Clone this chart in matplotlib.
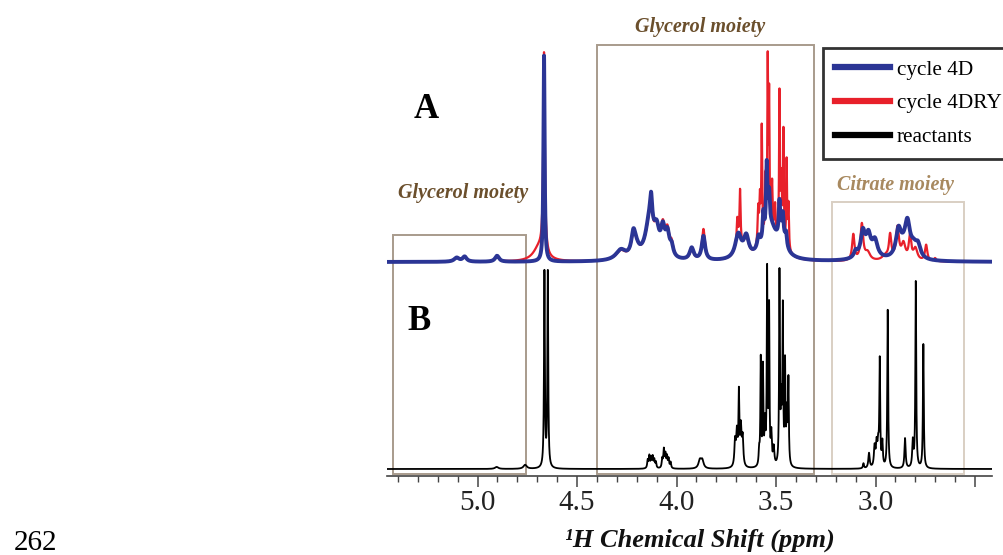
import numpy as np
import matplotlib.pyplot as plt
from matplotlib.lines import Line2D
from matplotlib.patches import Rectangle

plt.rcParams['font.family'] = ['Liberation Serif', 'DejaVu Serif']

### ============= peak tables =============
### each spectrum: peak position (ppm), height, half width (ppm)

## B: reactants
b_pos = [4.904, 4.761, 4.664, 4.647,
         4.145, 4.137, 4.128, 4.120, 4.112, 4.104,
         4.072, 4.064, 4.056, 4.048, 4.040, 4.030,
         3.883, 3.871,
         3.706, 3.697, 3.687, 3.677, 3.668,
         3.585, 3.577, 3.566, 3.556, 3.545, 3.535, 3.524, 3.512,
         3.483, 3.474, 3.466, 3.455, 3.446, 3.438,
         3.061, 3.033, 3.005, 2.995, 2.987, 2.979, 2.966, 2.939,
         2.852, 2.813, 2.798, 2.760]
b_hgt = [2, 4, 195, 195,
         8, 12, 10, 11, 8, 6,
         9, 18, 13, 11, 9, 6,
         8, 8,
         25, 33, 70, 38, 28,
         15, 106, 96, 40, 192, 155, 30, 18,
         190, 60, 152, 98, 50, 84,
         5, 15, 20, 22, 20, 105, 24, 158,
         30, 26, 186, 124]
b_wid = [.01, .01, .0025, .0025,
         .003, .003, .003, .003, .003, .003,
         .003, .003, .003, .003, .003, .003,
         .008, .008,
         .004, .004, .0025, .004, .004,
         .003, .0022, .0022, .003, .0022, .0022, .003, .004,
         .0022, .003, .0022, .0022, .003, .0025,
         .003, .004, .004, .004, .004, .0025, .003, .0025,
         .0035, .0035, .0025, .0025]

## A: cycle 4D (blue)
d_pos = [5.105, 5.065, 4.902, 4.666,
         4.28, 4.217, 4.205, 4.135, 4.128, 4.10, 4.069, 4.046, 4.025,
         3.924, 3.865,
         3.69, 3.65, 3.588,
         3.53, 3.47, 3.564, 3.547, 3.535, 3.483, 3.466, 3.45,
         3.10, 3.064, 3.036, 3.003, 3.04, 2.885, 2.86, 2.84, 2.81, 2.787]
d_hgt = [4, 5, 6, 206,
         10, 20, 10, 40, 25, 22, 25, 22, 10,
         12, 24,
         24, 20, 12,
         35, 20, 25, 65, 30, 32, 18, 12,
         6, 22, 15, 15, 10, 25, 10, 30, 10, 12]
d_wid = [.015, .012, .012, .0035,
         .03, .012, .02, .025, .006, .015, .012, .012, .01,
         .012, .01,
         .018, .015, .008,
         .04, .02, .004, .004, .004, .004, .004, .005,
         .01, .012, .012, .015, .04, .015, .03, .015, .02, .015]

## A: cycle 4DRY (red)
r_pos = [5.105, 5.065, 4.902, 4.666, 4.69,
         4.28, 4.217, 4.205, 4.135, 4.128, 4.10, 4.069, 4.046, 4.025,
         3.924, 3.865,
         3.69, 3.695, 3.681, 3.65, 3.588,
         3.53, 3.47,
         3.59, 3.581, 3.572, 3.553, 3.542, 3.535, 3.520, 3.505,
         3.483, 3.474, 3.463, 3.447, 3.438,
         3.112, 3.069, 3.04, 2.95, 2.927, 2.89, 2.86, 2.827, 2.80,
         2.746, 2.701]
r_hgt = [4, 5, 5, 200, 14,
         9, 18, 10, 38, 20, 22, 27, 24, 12,
         10, 31,
         20, 20, 50, 18, 12,
         30, 15,
         28, 40, 112, 55, 163, 127, 45, 28,
         141, 55, 105, 84, 45,
         26, 36, 8, 5, 24, 32, 16, 24, 12,
         16, 3]
r_wid = [.015, .012, .012, .0045, .035,
         .03, .012, .02, .025, .006, .015, .012, .012, .01,
         .012, .009,
         .018, .003, .003, .015, .008,
         .04, .02,
         .003, .003, .0025, .003, .0022, .0022, .003, .003,
         .0022, .003, .0022, .0022, .003,
         .007, .008, .015, .02, .007, .009, .012, .007, .012,
         .007, .006]

legend_labels = ['cycle 4D', 'cycle 4DRY', 'reactants']
tick_vals = [5.0, 4.5, 4.0, 3.5, 3.0, 2.5]
tick_text = ['5.0', '4.5', '4.0', '3.5', '3.0', '']

BASE_A = 214
BASE_B = 7

def spectrum(x, pos, hgt, wid):
    '''sum of lorentzian lines'''
    y = np.zeros_like(x)
    for p, h, w in zip(pos, hgt, wid):
        y += h * w**2 / ((x - p)**2 + w**2)
    return y

W, H = 1004, 555
fig = plt.figure(figsize=(W/100, H/100), dpi=100)
ax = fig.add_axes([387/W, (H-476)/H, (992-387)/W, 476/H])

x = np.linspace(5.455, 2.415, 30000)

### boxes round the moieties
box_dark = '#a89b8c'
box_light = '#d9cfc3'
ax.add_patch(Rectangle((5.425, 2), 4.756-5.425, 239, fill=False,
                       ec=box_dark, lw=1.4, zorder=1))
ax.add_patch(Rectangle((4.401, 2), 3.307-4.401, 429, fill=False,
                       ec=box_dark, lw=1.4, zorder=1))
ax.add_patch(Rectangle((3.217, 2), 2.555-3.217, 272, fill=False,
                       ec=box_light, lw=1.4, zorder=1))

ax.plot(x, BASE_B + spectrum(x, b_pos, b_hgt, b_wid), c='black', lw=1.3, zorder=3)
ax.plot(x, BASE_A + spectrum(x, r_pos, r_hgt, r_wid), c='#e8202a', lw=1.6, zorder=3)
ax.plot(x, BASE_A + spectrum(x, d_pos, d_hgt, d_wid), c='#2b3595', lw=2.8, zorder=4)

ax.set_xlim(5.455, 2.415)
ax.set_ylim(0, 476)
for s in ['top', 'left', 'right']:
    ax.spines[s].set_visible(False)
ax.spines['bottom'].set_linewidth(1.2)
ax.spines['bottom'].set_color('#444444')
ax.set_yticks([])
ax.set_xticks(tick_vals)
ax.set_xticklabels(tick_text)
ax.set_xticks(np.arange(2.5, 5.5, 0.1), minor=True)
ax.tick_params(axis='x', which='major', direction='out', length=8, width=1.1,
               color='#444444', labelsize=21, pad=2, labelcolor='#222222')
ax.tick_params(axis='x', which='minor', direction='out', length=4, width=1.0,
               color='#444444')
ax.patch.set_visible(False)

### texts
fig.text(700/W, 1-540/H, '\u00b9H Chemical Shift (ppm)', ha='center', va='center',
         fontsize=19, fontweight='bold', fontstyle='italic', color='#111111')
fig.text(426/W, 1-110/H, 'A', ha='center', va='center', fontsize=25, fontweight='bold')
fig.text(419/W, 1-322/H, 'B', ha='center', va='center', fontsize=25, fontweight='bold')
fig.text(700/W, 1-27/H, 'Glycerol moiety', ha='center', va='center', fontsize=14.5,
         fontweight='bold', fontstyle='italic', color='#6b4f2c')
fig.text(463/W, 1-193/H, 'Glycerol moiety', ha='center', va='center', fontsize=14.5,
         fontweight='bold', fontstyle='italic', color='#6b4f2c')
fig.text(895/W, 1-185/H, 'Citrate moiety', ha='center', va='center', fontsize=14.5,
         fontweight='bold', fontstyle='italic', color='#a8895f')
fig.text(14/W, 1-543/H, '262', ha='left', va='center', fontsize=21)

### legend
handles = [Line2D([], [], c='#2b3595', lw=4.5),
           Line2D([], [], c='#e8202a', lw=4.5),
           Line2D([], [], c='black', lw=4.5)]
leg = fig.legend(handles, legend_labels, loc='upper left',
                 bbox_to_anchor=(823/W, 1-48/H), fontsize=15.3, frameon=True,
                 fancybox=False, handlelength=2.6, handletextpad=0.33,
                 borderpad=0.55, labelspacing=0.66, borderaxespad=0)
leg.get_frame().set_edgecolor('black')
leg.get_frame().set_linewidth(2)

fig.savefig('out.png', dpi=100)
